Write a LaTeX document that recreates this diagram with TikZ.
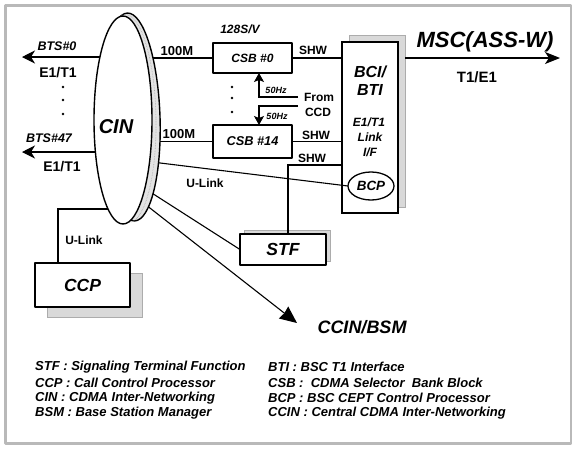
\documentclass[tikz,border=0pt]{standalone}
\usepackage{fontspec}
\setmainfont{Liberation Sans}
\usetikzlibrary{arrows.meta,shapes.geometric}
\pgfdeclarelayer{back}
\pgfdeclarelayer{wires}
\pgfsetlayers{back,wires,main}
\newcommand\sz[1]{\fontsize{#1}{#1}\selectfont}
\begin{document}
\begin{tikzpicture}[x=1pt,y=-1pt,line join=round,
  wire/.style={line width=1.1pt},
  frontbox/.style={draw,line width=1.3pt,fill=white,inner sep=0pt,outer sep=0pt},
  shadowbox/.style={fill=gray!30,draw=gray!65,line width=0.8pt},
  disk/.style={ellipse,draw,line width=1.4pt,minimum width=58pt,minimum height=208pt,inner sep=0pt,outer sep=0pt},
  tx/.style={font=\sz{12}\bfseries,inner sep=0pt},
  itx/.style={font=\sz{12}\bfseries\itshape,inner sep=0pt},
  legend/.style={font=\sz{13}\bfseries\itshape,inner sep=0pt,anchor=west},
  dot/.style={circle,fill=black,inner sep=0pt,minimum size=2.6pt},
  btsarrow/.style={-{Stealth[length=13pt,width=13pt,inset=4pt]}},
  mscarrow/.style={-{Stealth[length=15pt,width=12pt,inset=4pt]}},
  ccinarrow/.style={-{Stealth[length=17pt,width=15pt,inset=1pt]}},
  hzarrow/.style={-{Stealth[length=9pt,width=10pt,inset=2pt]}}]
\useasboundingbox (0,0) rectangle (576,448);
% outer frame
\draw[gray!55,line width=2.6pt] (5.5,5.5) rectangle (571,443.5);

% CIN disk: back rim, dotted middle, front face
\node[disk,fill=gray!22,rotate=2] (cinrim) at (131,117) {};
\draw[gray!70,densely dotted,line width=0.6pt,rotate around={1:(127,118.5)}] (127,118.5) ellipse [x radius=29pt,y radius=104pt];
\node[disk,fill=white] (cin) at (123,120) {};
\node[itx,font=\sz{20}\bfseries\itshape] (lcin) at (116,127) {CIN};

% selector bank blocks
\node[frontbox,minimum width=79pt,minimum height=30pt,font=\sz{12}\bfseries\itshape] (csb0) at (252.5,58) {CSB \#0};
\node[frontbox,minimum width=79pt,minimum height=33pt,font=\sz{12.8}\bfseries\itshape] (csb14) at (252.5,141.5) {CSB \#14};

% BCI/BTI interface box with its backing sheet, and the sheets behind STF and CCP
\begin{pgfonlayer}{back}
\draw[shadowbox] (349,35) rectangle (405,207);
\node[frontbox,minimum width=56pt,minimum height=171pt] (bci) at (370,127.5) {};
\draw[shadowbox] (244,230) rectangle (330,261);
\draw[shadowbox] (47,273) rectangle (142,317);
\end{pgfonlayer}
\node[itx,font=\sz{16}\bfseries\itshape] (lbci) at (370,72) {BCI/};
\node[itx,font=\sz{16}\bfseries\itshape] (lbti) at (370,90) {BTI};
\node[itx] (le1c) at (369,122) {E1/T1};
\node[itx] (llink) at (370,137) {Link};
\node[itx] (lif) at (370,152) {I/F};
\node[ellipse,draw,line width=1.3pt,fill=white,minimum width=46pt,minimum height=28pt,inner sep=0pt,outer sep=0pt,font=\sz{13.4}\bfseries\itshape] (bcp) at (371,186) {BCP};

% STF and CCP
\node[frontbox,minimum width=86pt,minimum height=31pt,font=\sz{17.5}\bfseries\itshape] (stf) at (283,249.5) {STF};
\node[frontbox,minimum width=95pt,minimum height=44pt,font=\sz{17.5}\bfseries\itshape] (ccp) at (82.5,285) {CCP};

% free ends and junctions
\coordinate (bts0) at (22,57);
\coordinate (bts47) at (22,152);
\coordinate (msc) at (560,58);
\coordinate (ccin) at (297,323);
\coordinate (fa) at (298,97);
\coordinate (fb) at (298,106);
\coordinate (j) at (288,165);
\coordinate (ccpj) at (58,209);
\coordinate (bcix) at ([xshift=7pt]bci.east);

\begin{pgfonlayer}{wires}
\draw[wire,btsarrow] (cin.center |- bts0) -- (bts0);
\draw[wire,btsarrow] (cin.center |- bts47) -- (bts47);
\draw[wire] (cinrim.center |- csb0.west) -- (csb0.west);
\draw[wire] (cinrim.center |- csb14.west) -- (csb14.west);
\draw[wire] (csb0.east) -- (csb0.east -| bci.west);
\draw[wire] (csb14.east) -- (csb14.east -| bci.west);
\draw[wire] (stf.north -| j) -- (j) -- (j -| bci.west);
\draw[wire,mscarrow] (bcix |- msc) -- (msc);
\draw[wire] (cinrim.-61) -- (bcp.west);
\draw[wire] (cinrim.-76) -- (stf.west);
\draw[wire,ccinarrow] (cinrim.-81) -- (ccin);
\draw[wire] (ccp.north -| ccpj) -- (ccpj) -- (cin.center |- ccpj);
\draw[wire,hzarrow] (fa) -| ([xshift=6.5pt]csb0.south);
\draw[wire,hzarrow] (fb) -| ([xshift=6.5pt]csb14.north);
\end{pgfonlayer}

% ellipsis dots
\node[dot] (da1) at (63,87) {};
\node[dot] (da2) at (63,100) {};
\node[dot] (da3) at (63,114) {};
\node[dot] (db1) at (232,87) {};
\node[dot] (db2) at (232,98) {};
\node[dot] (db3) at (232,112) {};

% labels
\node[itx,font=\sz{12.5}\bfseries\itshape] (lbts0) at (57,46) {BTS\#0};
\node[tx,font=\sz{14}\bfseries] (le1a) at (58,73) {E1/T1};
\node[itx,font=\sz{12.5}\bfseries\itshape] (lbts47) at (49,138) {BTS\#47};
\node[tx,font=\sz{14}\bfseries] (le1b) at (62,167) {E1/T1};
\node[tx,font=\sz{13}\bfseries] (l100a) at (177,51) {100M};
\node[tx,font=\sz{13}\bfseries] (l100b) at (179,134) {100M};
\node[itx] (l128) at (240,29) {128S/V};
\node[tx] (lshw1) at (313,50) {SHW};
\node[tx] (lshw2) at (316,135) {SHW};
\node[tx] (lshw3) at (312,158) {SHW};
\node[tx] (lfrom) at (319,97) {From};
\node[tx] (lccd) at (318,112) {CCD};
\node[itx,font=\sz{9}\bfseries\itshape] (lhz1) at (276,90) {50Hz};
\node[itx,font=\sz{9}\bfseries\itshape] (lhz2) at (277,116) {50Hz};
\node[itx,font=\sz{22}\bfseries\itshape] (lmsc) at (485,42) {MSC(ASS-W)};
\node[tx,font=\sz{15}\bfseries] (lt1) at (477,77) {T1/E1};
\node[tx] (lul1) at (205,183) {U-Link};
\node[tx] (lul2) at (84,240) {U-Link};
\node[itx,font=\sz{18}\bfseries\itshape] (lccin) at (362,327) {CCIN/BSM};

% legend
\node[legend] (g1) at (35,367) {STF : Signaling Terminal Function};
\node[legend] (g2) at (35,383) {CCP : Call Control Processor};
\node[legend] (g3) at (35,398) {CIN : CDMA Inter-Networking};
\node[legend] (g4) at (35,413) {BSM : Base Station Manager};
\node[legend] (g5) at (268,367) {BTI : BSC T1 Interface};
\node[legend] (g6) at (268,383) {CSB :\ \ CDMA Selector\ \ Bank Block};
\node[legend] (g7) at (268,398) {BCP : BSC CEPT Control Processor};
\node[legend] (g8) at (268,413) {CCIN : Central CDMA Inter-Networking};
\end{tikzpicture}
\end{document}
